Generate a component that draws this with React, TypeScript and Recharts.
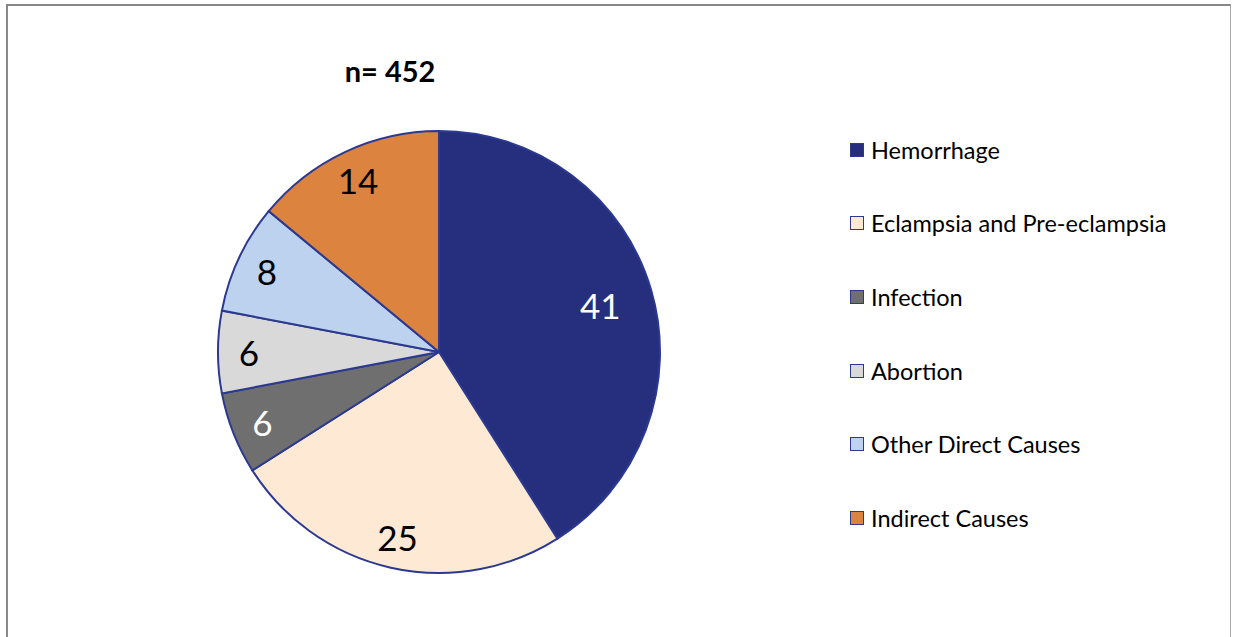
import { PieChart, Pie, Cell, Legend } from "recharts";

const causes = [
  "Hemorrhage",
  "Eclampsia and Pre-eclampsia",
  "Infection",
  "Abortion",
  "Other Direct Causes",
  "Indirect Causes",
];
const shares = [41, 25, 6, 6, 8, 14];
const colors = ["#252f7e", "#fde9d4", "#6f6f6f", "#d9d9d9", "#bcd2ee", "#dc843f"];
const labelColors = ["#ffffff", "#000000", "#ffffff", "#000000", "#000000", "#000000"];

const data = causes.map((name, i) => ({ name, value: shares[i] }));

const FONT = "'Lato', 'Open Sans', sans-serif";
const RAD = Math.PI / 180;

const renderLabel = (props: any) => {
  const { cx, cy, midAngle, outerRadius, percent, index, value } = props;
  const r = outerRadius * (percent > 0.3 ? 0.76 : 0.86);
  const x = cx + r * Math.cos(-midAngle * RAD);
  const y = cy + r * Math.sin(-midAngle * RAD);
  return (
    <text
      x={x}
      y={y}
      fill={labelColors[index]}
      fontSize={35}
      fontFamily={FONT}
      textAnchor="middle"
      dominantBaseline="central"
    >
      {value}
    </text>
  );
};

const renderLegend = () => (
  <div style={{ fontFamily: FONT, fontSize: 23.5, color: "#000" }}>
    {causes.map((c, i) => (
      <div key={c} style={{ display: "flex", alignItems: "center", height: 73.6 }}>
        <span
          style={{
            width: 12,
            height: 12,
            background: colors[i],
            border: "1px solid #2b3990",
            marginRight: 7,
          }}
        />
        <span>{c}</span>
      </div>
    ))}
  </div>
);

export default function App() {
  return (
    <div style={{ position: "fixed", left: 0, top: 0, width: 1236, height: 637, background: "#fff" }}>
      <div
        style={{
          position: "absolute",
          left: 6,
          top: 4,
          width: 1222,
          height: 660,
          borderTop: "2px solid #888",
          borderLeft: "2px solid #888",
          borderRight: "1px solid #aaa",
        }}
      />
      <div
        style={{
          position: "absolute",
          left: 320,
          top: 53,
          width: 140,
          textAlign: "center",
          fontFamily: FONT,
          fontWeight: 700,
          fontSize: 29,
          lineHeight: "36px",
        }}
      >
        n= 452
      </div>
      <PieChart
        width={1236}
        height={637}
        margin={{ top: 0, right: 0, bottom: 0, left: 0 }}
        style={{ position: "absolute", left: 0, top: 0 }}
      >
        <Pie
          data={data}
          dataKey="value"
          nameKey="name"
          cx={439}
          cy={352}
          outerRadius={221}
          startAngle={90}
          endAngle={-270}
          stroke="#2b3990"
          strokeWidth={2}
          label={renderLabel}
          labelLine={false}
          isAnimationActive={false}
        >
          {data.map((d, i) => (
            <Cell key={d.name} fill={colors[i]} />
          ))}
        </Pie>
        <Legend
          layout="vertical"
          content={renderLegend}
          wrapperStyle={{ left: 850, top: 113, width: 385 }}
        />
      </PieChart>
    </div>
  );
}
